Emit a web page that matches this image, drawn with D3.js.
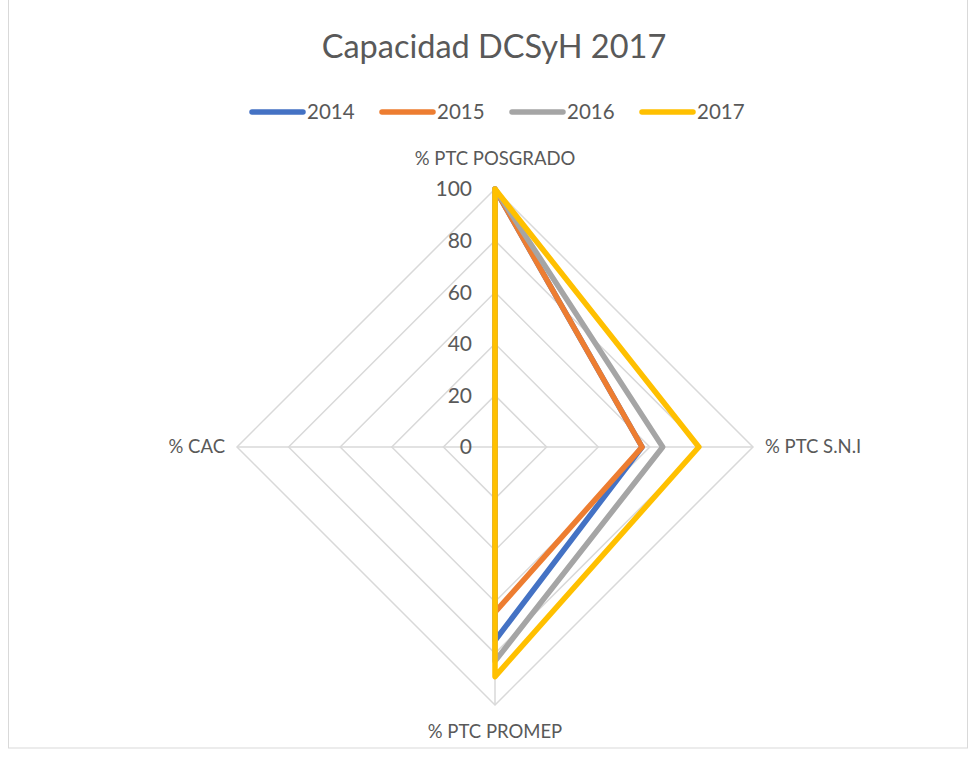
<!DOCTYPE html>
<html>
<head>
<meta charset="utf-8">
<script src="https://cdn.jsdelivr.net/npm/d3@7"></script>
<style>
  body { margin: 0; background: #fff; }
  text { font-family: Lato, "Open Sans", sans-serif; fill: #595959; }
</style>
</head>
<body>
<div class="chart"></div>
<script>

// Data
//
var axes = ["% PTC POSGRADO", "% PTC S.N.I", "% PTC PROMEP", "% CAC"];
var years = ["2014", "2015", "2016", "2017"];
var colors = ["#4472c4", "#ed7d31", "#a5a5a5", "#ffc000"];
var v2014 = [100, 57, 75, 0];
var v2015 = [100, 57, 64, 0];
var v2016 = [100, 65, 83, 0];
var v2017 = [100, 79, 89, 0];
var ticks = [0, 20, 40, 60, 80, 100];

var series = [v2014, v2015, v2016, v2017];

var width = 971, height = 757;
var cx = 495, cy = 447, radius = 258;

var svg = d3.select(".chart")
	.append("svg")
	.attr("width", width)
	.attr("height", height);

svg.append("rect")
	.attr("x", 8.5).attr("y", -1)
	.attr("width", 959).attr("height", 749)
	.attr("fill", "none")
	.attr("stroke", "#d9d9d9");

var r = d3.scaleLinear()
	.domain([0, 100])
	.range([0, radius]);

// one angle per axis, clockwise from the top
var angle = d3.scaleLinear()
	.domain([0, axes.length])
	.range([0, 2 * Math.PI]);

var g = svg.append("g")
	.attr("transform", "translate(" + cx + "," + cy + ")");

function pt(i, v) {
	var a = angle(i);
	return [Math.sin(a) * r(v), -Math.cos(a) * r(v)];
}

var line = d3.line().curve(d3.curveLinearClosed);

// grid rings
g.selectAll(".ring")
	.data(ticks.filter(function(t) { return t > 0; }))
	.enter().append("path")
	.attr("class", "ring")
	.attr("d", function(t) { return line(axes.map(function(a, i) { return pt(i, t); })); })
	.attr("fill", "none")
	.attr("stroke", "#d9d9d9")
	.attr("stroke-width", 1.5);

// spokes
g.selectAll(".spoke")
	.data(axes)
	.enter().append("line")
	.attr("x1", 0).attr("y1", 0)
	.attr("x2", function(d, i) { return pt(i, 100)[0]; })
	.attr("y2", function(d, i) { return pt(i, 100)[1]; })
	.attr("stroke", "#d9d9d9")
	.attr("stroke-width", 1.5);

// tick labels
g.selectAll(".tick")
	.data(ticks)
	.enter().append("text")
	.attr("x", -23)
	.attr("y", function(t) { return -r(t); })
	.attr("dy", "0.35em")
	.attr("text-anchor", "end")
	.style("font-size", "21px")
	.text(function(t) { return t; });

// axis labels
var labelPos = [
	{x: 0, y: -radius - 30, anchor: "middle"},
	{x: radius + 12, y: 0, anchor: "start"},
	{x: 0, y: radius + 27, anchor: "middle"},
	{x: -radius - 12, y: 0, anchor: "end"}
];
g.selectAll(".axlab")
	.data(axes)
	.enter().append("text")
	.attr("x", function(d, i) { return labelPos[i].x; })
	.attr("y", function(d, i) { return labelPos[i].y; })
	.attr("dy", "0.35em")
	.attr("text-anchor", function(d, i) { return labelPos[i].anchor; })
	.style("font-size", "18.5px")
	.text(function(d) { return d; });

// series
g.selectAll(".serie")
	.data(series)
	.enter().append("path")
	.attr("class", "serie")
	.attr("d", function(s) { return line(s.map(function(v, i) { return pt(i, v); })); })
	.attr("fill", "none")
	.attr("stroke", function(d, i) { return colors[i]; })
	.attr("stroke-width", 5.5)
	.attr("stroke-linejoin", "round");

// title
svg.append("text")
	.attr("x", 494)
	.attr("y", 58)
	.attr("text-anchor", "middle")
	.style("font-size", "32.5px")
	.text("Capacidad DCSyH 2017");

// legend
var legX = [250, 380, 510, 640];
var leg = svg.selectAll(".leg")
	.data(years)
	.enter().append("g")
	.attr("transform", function(d, i) { return "translate(" + legX[i] + ",112)"; });

leg.append("line")
	.attr("x1", 2).attr("x2", 53)
	.attr("stroke", function(d, i) { return colors[i]; })
	.attr("stroke-width", 5.5)
	.attr("stroke-linecap", "round");

leg.append("text")
	.attr("x", 57)
	.attr("dy", "0.35em")
	.style("font-size", "20.5px")
	.text(function(d) { return d; });

</script>
</body>
</html>
